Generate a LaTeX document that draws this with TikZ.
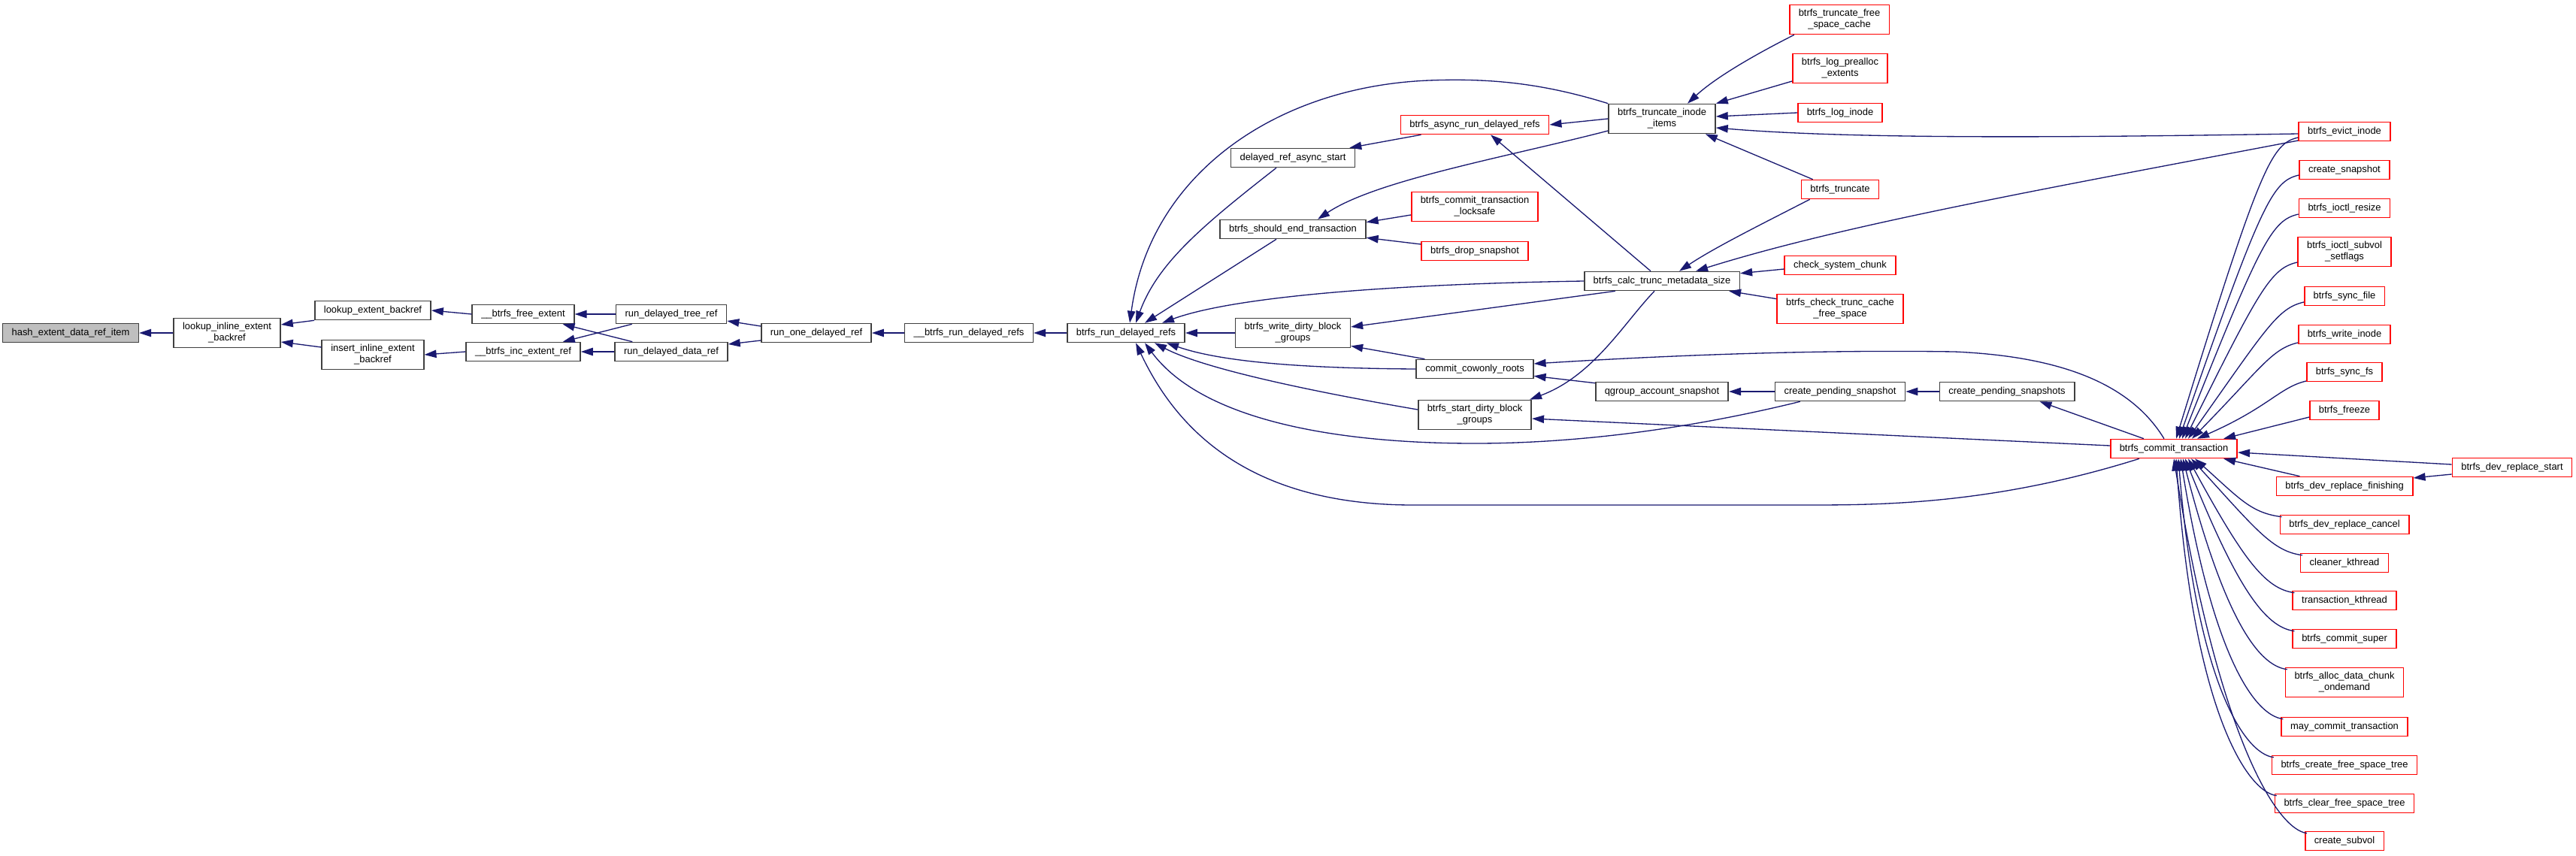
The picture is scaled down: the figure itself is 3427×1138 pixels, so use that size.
\documentclass[tikz,border=0pt]{standalone}
\usepackage{fontspec}
\setmainfont{Liberation Sans}
\usepackage{xcolor}
\usetikzlibrary{arrows.meta,calc}
\definecolor{edgeblue}{HTML}{191970}
\definecolor{linkred}{HTML}{FF0000}
\definecolor{rootgrey}{HTML}{BFBFBF}
\definecolor{boxline}{HTML}{404040}
\newcommand\fnfont{\fontsize{9.2pt}{10.7pt}\selectfont}

\begin{document}
\begin{tikzpicture}[x=0.25mm, y=-0.25mm,
  fn/.style={draw=boxline, line width=0.4mm, fill=white, align=center, inner xsep=3mm, inner ysep=1.5mm, minimum height=6.25mm, font=\fnfont},
  root/.style={fn, fill=rootgrey},
  ext/.style={fn, draw=linkred},
  calls/.style={-{Triangle[length=4mm,width=2.6mm]}, draw=edgeblue, line width=0.33mm}]
\useasboundingbox (0,0) rectangle (3427,1138);

% callee chain
\node[root] (hash) at (94,443) {hash\_extent\_data\_ref\_item};
\node[fn] (lookupinl) at (302,443) {lookup\_inline\_extent\\\_backref};
\node[fn] (lookupext) at (496,413) {lookup\_extent\_backref};
\node[fn] (insertinl) at (496,472) {insert\_inline\_extent\\\_backref};
\node[fn] (freeext) at (696,418) {\_\_btrfs\_free\_extent};
\node[fn] (incref) at (696,468) {\_\_btrfs\_inc\_extent\_ref};
\node[fn] (treeref) at (893,418) {run\_delayed\_tree\_ref};
\node[fn] (dataref) at (893,468) {run\_delayed\_data\_ref};
\node[fn] (runone) at (1086,443) {run\_one\_delayed\_ref};
\node[fn] (xrundel) at (1289,443) {\_\_btrfs\_run\_delayed\_refs};
\node[fn] (rundel) at (1498,443) {btrfs\_run\_delayed\_refs};
% middle columns
\node[fn] (asyncstart) at (1720,210) {delayed\_ref\_async\_start};
\node[fn] (shouldend) at (1720,305) {btrfs\_should\_end\_transaction};
\node[fn] (writedirty) at (1720,443) {btrfs\_write\_dirty\_block\\\_groups};
\node[ext] (asyncrun) at (1962,166) {btrfs\_async\_run\_delayed\_refs};
\node[ext] (locksafe) at (1962,275) {btrfs\_commit\_transaction\\\_locksafe};
\node[ext] (dropsnap) at (1962,334) {btrfs\_drop\_snapshot};
\node[fn] (cowonly) at (1962,491) {commit\_cowonly\_roots};
\node[fn] (startdirty) at (1962,552) {btrfs\_start\_dirty\_block\\\_groups};
\node[fn] (truncitems) at (2211,158) {btrfs\_truncate\_inode\\\_items};
\node[fn] (calcsize) at (2211,374) {btrfs\_calc\_trunc\_metadata\_size};
\node[fn] (qgroup) at (2211,521) {qgroup\_account\_snapshot};
\node[ext] (freecache) at (2447,26) {btrfs\_truncate\_free\\\_space\_cache};
\node[ext] (prealloc) at (2448,91) {btrfs\_log\_prealloc\\\_extents};
\node[ext] (loginode) at (2448,150) {btrfs\_log\_inode};
\node[ext] (truncate) at (2448,252) {btrfs\_truncate};
\node[ext] (syschunk) at (2448,353) {check\_system\_chunk};
\node[ext] (truncache) at (2448,411) {btrfs\_check\_trunc\_cache\\\_free\_space};
\node[fn] (pendsnap) at (2448,521) {create\_pending\_snapshot};
\node[fn] (pendsnaps) at (2670,521) {create\_pending\_snapshots};
\node[ext] (commit) at (2892,597) {btrfs\_commit\_transaction};
\node[ext] (replstart) at (3342,622) {btrfs\_dev\_replace\_start};
% right column
\foreach \n/\y/\txt in {evict/175/btrfs\_evict\_inode, createsnap/226/create\_snapshot,
    resize/277/btrfs\_ioctl\_resize, setflags/335/btrfs\_ioctl\_subvol\\\_setflags,
    syncfile/394/btrfs\_sync\_file, writeinode/445/btrfs\_write\_inode,
    syncfs/495/btrfs\_sync\_fs, freeze/546/btrfs\_freeze,
    finishing/647/btrfs\_dev\_replace\_finishing, cancel/698/btrfs\_dev\_replace\_cancel,
    cleaner/749/cleaner\_kthread, transkthread/799/transaction\_kthread,
    super/850/btrfs\_commit\_super, allocchunk/908/btrfs\_alloc\_data\_chunk\\\_ondemand,
    maycommit/967/may\_commit\_transaction, createfst/1018/btrfs\_create\_free\_space\_tree,
    clearfst/1069/btrfs\_clear\_free\_space\_tree, subvol/1119/create\_subvol}
  \node[ext] (\n) at (3119,\y) {\txt};

% edges, arrow at the callee
\draw[calls] (lookupinl.west) -- (hash.east);
\draw[calls] (lookupext.south west) -- ($(lookupinl.east)+(0,-11)$);
\draw[calls] ($(insertinl.west)+(0,-10)$) -- ($(lookupinl.east)+(0,12)$);
\draw[calls] (freeext.west) -- (lookupext.east);
\draw[calls] (incref.west) -- (insertinl.east);
\draw[calls] (treeref.west) -- (freeext.east);
\draw[calls] ($(treeref.south west)+(22,0)$) -- ($(incref.north east)+(-24,0)$);
\draw[calls] ($(dataref.north west)+(24,0)$) -- ($(freeext.south east)+(-16,0)$);
\draw[calls] (dataref.west) -- (incref.east);
\draw[calls] ($(runone.west)+(0,-9)$) -- ($(treeref.east)+(0,9)$);
\draw[calls] ($(runone.west)+(0,10)$) -- ($(dataref.east)+(0,-10)$);
\draw[calls] (xrundel.west) -- (runone.east);
\draw[calls] (rundel.west) -- (xrundel.east);
% into btrfs_run_delayed_refs
\draw[calls] (truncitems.north west) .. controls (2050,110) and (1980,104) .. (1901,107)
  .. controls (1700,115) and (1530,230) .. ($(rundel.north)+(5,0)$);
\draw[calls] ($(asyncstart.south)+(-22,0)$) .. controls (1600,300) and (1540,350) .. ($(rundel.north)+(13,0)$);
\draw[calls] ($(shouldend.south)+(-22,0)$) -- ($(rundel.north)+(25,0)$);
\draw[calls] (calcsize.west) .. controls (1850,378) and (1640,395) .. ($(rundel.north)+(48,0)$);
\draw[calls] (writedirty.west) -- (rundel.east);
\draw[calls] (cowonly.west) .. controls (1720,490) and (1620,480) .. ($(rundel.south)+(54,0)$);
\draw[calls] ($(startdirty.west)+(0,-7)$) .. controls (1740,520) and (1600,490) .. ($(rundel.south)+(38,0)$);
\draw[calls] ($(pendsnap.south west)+(34,0)$) .. controls (2250,570) and (2100,590) .. (1962,590)
  .. controls (1780,590) and (1600,560) .. ($(rundel.south)+(25,0)$);
\draw[calls] ($(commit.south west)+(39,0)$) .. controls (2650,672) and (2500,672) .. (2400,672) -- (1880,672)
  .. controls (1650,672) and (1560,560) .. ($(rundel.south)+(13,0)$);
% middle
\draw[calls] ($(asyncrun.south west)+(28,0)$) -- ($(asyncstart.north east)+(-8,0)$);
\draw[calls] (truncitems.west) -- (asyncrun.east);
\draw[calls] ($(calcsize.north)+(-15,0)$) -- ($(asyncrun.south)+(21,0)$);
\draw[calls] ($(truncitems.west)+(0,16)$) .. controls (2000,210) and (1830,240) .. ($(shouldend.north)+(33,0)$);
\draw[calls] ($(locksafe.west)+(0,11)$) -- ($(shouldend.north east)+(0,4)$);
\draw[calls] ($(dropsnap.west)+(0,-9)$) -- ($(shouldend.south east)+(0,-2)$);
\draw[calls] ($(calcsize.south west)+(42,0)$) -- ($(writedirty.east)+(0,-8)$);
\draw[calls] ($(cowonly.north west)+(12,0)$) -- ($(writedirty.south east)+(0,-3)$);
\draw[calls] ($(commit.north west)+(72,0)$) .. controls (2840,520) and (2760,475) .. (2600,468)
  .. controls (2400,465) and (2200,474) .. ($(cowonly.east)+(0,-7)$);
\draw[calls] ($(qgroup.north west)+(0,2)$) -- ($(cowonly.south east)+(0,-4)$);
\draw[calls] ($(calcsize.south)+(-10,0)$) .. controls (2160,430) and (2120,500) .. ($(startdirty.north east)+(-3,0)$);
\draw[calls] ($(commit.west)+(0,-4)$) -- ($(startdirty.east)+(0,5)$);
% into btrfs_truncate_inode_items and btrfs_calc_trunc_metadata_size
\draw[calls] ($(freecache.south west)+(7,0)$) .. controls (2330,75) and (2280,105) .. ($(truncitems.north)+(34,0)$);
\draw[calls] ($(prealloc.west)+(0,17)$) -- (truncitems.north east);
\draw[calls] (loginode.west) -- ($(truncitems.east)+(0,-3)$);
\draw[calls] ($(evict.west)+(0,3)$) .. controls (2700,184) and (2450,184) .. ($(truncitems.east)+(0,12)$);
\draw[calls] ($(truncate.north west)+(16,0)$) -- ($(truncitems.south east)+(-14,0)$);
\draw[calls] ($(truncate.south west)+(12,0)$) .. controls (2340,300) and (2280,330) .. ($(calcsize.north)+(23,0)$);
\draw[calls] ($(evict.west)+(0,12)$) .. controls (2700,255) and (2450,300) .. ($(calcsize.north)+(45,0)$);
\draw[calls] ($(syschunk.west)+(0,5)$) -- ($(calcsize.north east)+(0,3)$);
\draw[calls] ($(truncache.north west)+(0,7)$) -- ($(calcsize.south east)+(-15,0)$);
% snapshots
\draw[calls] (pendsnap.west) -- (qgroup.east);
\draw[calls] (pendsnaps.west) -- (pendsnap.east);
\draw[calls] ($(commit.north west)+(45,0)$) -- ($(pendsnaps.south east)+(-47,0)$);
% callers of btrfs_commit_transaction
\foreach \n/\dy/\dx in {evict/8/3, createsnap/7/7, resize/8/11, setflags/14/15,
    syncfile/8/19, writeinode/11/24, syncfs/12/31}
  \draw[calls] ($(\n.west)+(0,\dy)$) .. controls ($(\n.west)+(-35,\dy+8)$) and ($(\n.west)+(-50,\dy+35)$)
    .. ($(commit.north)+(\dx,0)$);
\draw[calls] ($(freeze.west)+(0,9)$) -- ($(commit.north east)+(-19,0)$);
\foreach \n/\dx/\ax/\ay in {cancel/28/-52/-20, cleaner/23/-60/-33, transkthread/19/-67/-45,
    super/15/-75/-58, allocchunk/12/-82/-70, maycommit/9/-92/-87, createfst/6/-100/-100,
    clearfst/3/-108/-113, subvol/0/-115/-125}
  \draw[calls] ($(\n.north west)+(3,3)$) .. controls ($(\n.north west)+(-37,-2)$) and ($(\n.north west)+(\ax,\ay)$)
    .. ($(commit.south)+(\dx,0)$);
\draw[calls] ($(finishing.north west)+(32,0)$) -- ($(commit.south east)+(-19,0)$);
\draw[calls] ($(replstart.west)+(0,-4)$) -- ($(commit.east)+(0,5)$);
\draw[calls] ($(replstart.west)+(0,9)$) -- ($(finishing.east)+(0,-11)$);
\end{tikzpicture}
\end{document}
